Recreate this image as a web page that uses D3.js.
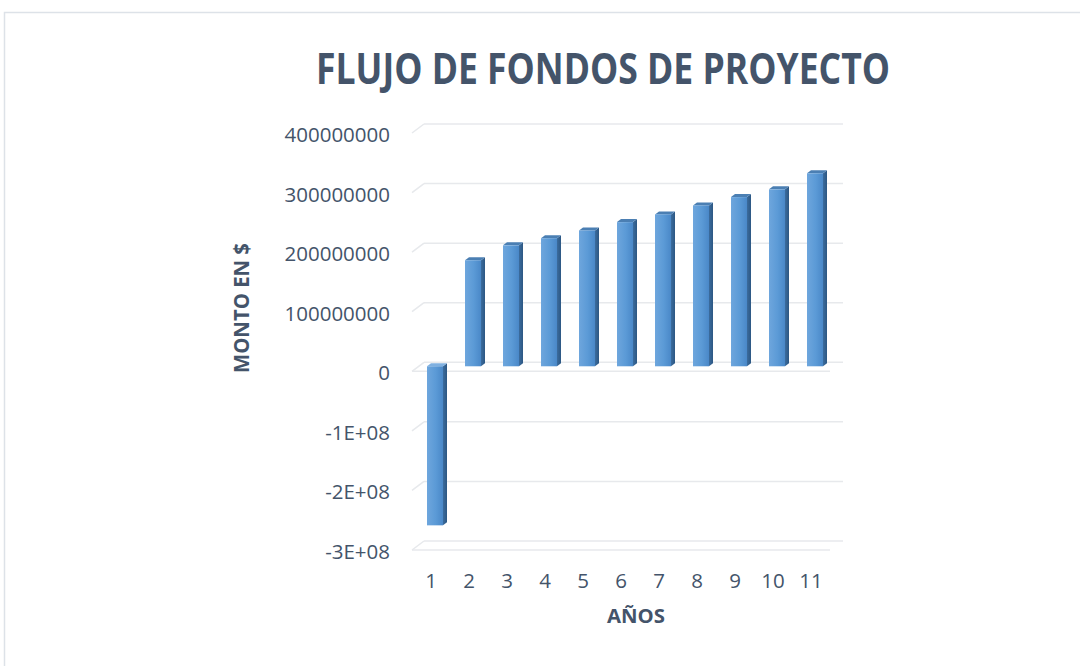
<!DOCTYPE html>
<html>
<head>
<meta charset="utf-8">
<script src="https://cdn.jsdelivr.net/npm/d3@7"></script>
<style>
  html, body { margin: 0; padding: 0; background: #ffffff; }
  svg { display: block; }
  text { font-family: "Open Sans", "DejaVu Sans", sans-serif; fill: #44546a; }
</style>
</head>
<body>
<script>
// Cash flow per project year (in $)
const years = ["1", "2", "3", "4", "5", "6", "7", "8", "9", "10", "11"];
const flujo = [-267e6, 178e6, 203e6, 215e6, 228e6, 242e6, 255e6, 270e6, 284e6, 297e6, 324e6];
const yTicks = [-3e8, -2e8, -1e8, 0, 1e8, 2e8, 3e8, 4e8];
const yTickLabels = ["-3E+08", "-2E+08", "-1E+08", "0", "100000000", "200000000", "300000000", "400000000"];

const W = 1080, H = 666;
const svg = d3.select("body").append("svg").attr("width", W).attr("height", H);

// outer chart frame
svg.append("rect")
  .attr("x", 4.5).attr("y", 12.5)
  .attr("width", W + 20).attr("height", H + 20)
  .attr("fill", "none").attr("stroke", "#dde2e8").attr("stroke-width", 1.5);

// front plane of the 3D plot box
const x = d3.scaleBand().domain(years).range([412, 830]).paddingInner(0).paddingOuter(0);
const y = d3.scaleLinear().domain([-3e8, 4e8]).range([550, 133]);

// depth of the box (back wall offset) and of the bars
const depth = { dx: 12, dy: -9 };
const barShift = { dx: 4, dy: -5 };
const barDepth = { dx: 4, dy: -3 };
const barW = 16;

const grid = svg.append("g").attr("stroke", "#e7e9ec").attr("stroke-width", 1.5).attr("fill", "none");
const x0 = x.range()[0], x1 = x.range()[1];

// back wall gridlines + side wall diagonals
yTicks.forEach(v => {
  const yf = y(v);
  grid.append("line")
    .attr("x1", x0 + depth.dx).attr("x2", x1 + depth.dx + 1)
    .attr("y1", yf + depth.dy).attr("y2", yf + depth.dy);
  grid.append("line")
    .attr("x1", x0).attr("y1", yf)
    .attr("x2", x0 + depth.dx).attr("y2", yf + depth.dy);
});
// floor front edges at 0 and at the bottom of the axis
[0, -3e8].forEach(v => {
  grid.append("line")
    .attr("x1", x0).attr("x2", x1)
    .attr("y1", y(v)).attr("y2", y(v));
});

// gradients for the bar faces
const defs = svg.append("defs");
const gFront = defs.append("linearGradient").attr("id", "gFront")
  .attr("x1", 0).attr("y1", 0).attr("x2", 1).attr("y2", 0);
gFront.append("stop").attr("offset", "0%").attr("stop-color", "#6ea6dd");
gFront.append("stop").attr("offset", "55%").attr("stop-color", "#5b9ad6");
gFront.append("stop").attr("offset", "100%").attr("stop-color", "#4a88c8");
const gSide = defs.append("linearGradient").attr("id", "gSide")
  .attr("x1", 0).attr("y1", 0).attr("x2", 1).attr("y2", 0);
gSide.append("stop").attr("offset", "0%").attr("stop-color", "#3b6c9e");
gSide.append("stop").attr("offset", "100%").attr("stop-color", "#2c5783");

const bars = svg.append("g");
years.forEach((yr, i) => {
  const v = flujo[i];
  const bx = x(yr) + x.bandwidth() / 2 - barW / 2 + barShift.dx;
  const yv = y(v) + barShift.dy;
  const y0 = y(0) + barShift.dy;
  const top = Math.min(yv, y0), bot = Math.max(yv, y0);
  const g = bars.append("g");
  // right side face
  g.append("path")
    .attr("d", `M${bx + barW},${top} L${bx + barW + barDepth.dx},${top + barDepth.dy} L${bx + barW + barDepth.dx},${bot + barDepth.dy} L${bx + barW},${bot} Z`)
    .attr("fill", "url(#gSide)");
  // top face
  g.append("path")
    .attr("d", `M${bx},${top} L${bx + barDepth.dx},${top + barDepth.dy} L${bx + barW + barDepth.dx},${top + barDepth.dy} L${bx + barW},${top} Z`)
    .attr("fill", v < 0 ? "#7fb0e0" : "#4b7fb3");
  // front face
  g.append("rect")
    .attr("x", bx).attr("y", top)
    .attr("width", barW).attr("height", bot - top)
    .attr("fill", "url(#gFront)");
});

// value axis labels
const yAxis = d3.axisLeft(y)
  .tickValues(yTicks)
  .tickFormat((d, i) => yTickLabels[i])
  .tickSize(0).tickPadding(0);
const ga = svg.append("g").attr("transform", "translate(390,2)").call(yAxis);
ga.select(".domain").remove();
ga.selectAll("text")
  .attr("font-family", "Open Sans")
  .attr("font-size", 20.5)
  .attr("fill", "#44546a");

// category axis labels
const xAxis = d3.axisBottom(x).tickSize(0).tickPadding(0);
const gx = svg.append("g").attr("transform", "translate(0,573)").call(xAxis);
gx.select(".domain").remove();
gx.selectAll("text")
  .attr("font-family", "Open Sans")
  .attr("font-size", 20.5)
  .attr("fill", "#44546a");

// titles
svg.append("text")
  .attr("x", 603).attr("y", 84)
  .attr("text-anchor", "middle")
  .attr("font-size", 43).attr("font-weight", 700)
  .attr("textLength", 574).attr("lengthAdjust", "spacingAndGlyphs")
  .text("FLUJO DE FONDOS DE PROYECTO");

svg.append("text")
  .attr("transform", "translate(249,308) rotate(-90)")
  .attr("text-anchor", "middle")
  .attr("font-size", 21).attr("font-weight", 700)
  .attr("textLength", 130).attr("lengthAdjust", "spacingAndGlyphs")
  .text("MONTO EN $");

svg.append("text")
  .attr("x", 636).attr("y", 623)
  .attr("text-anchor", "middle")
  .attr("font-size", 20).attr("font-weight", 700)
  .attr("textLength", 58).attr("lengthAdjust", "spacingAndGlyphs")
  .text("AÑOS");
</script>
</body>
</html>
